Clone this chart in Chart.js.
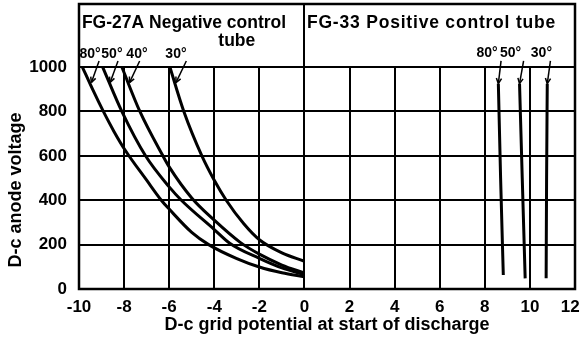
<!DOCTYPE html>
<html>
<head>
<meta charset="utf-8">
<script src="https://cdn.jsdelivr.net/npm/chart.js@4/dist/chart.umd.min.js"></script>
<style>
  html, body { margin: 0; padding: 0; background: #fff; }
  #wrap { width: 580px; height: 341px; }
</style>
</head>
<body>
<div id="wrap"><canvas id="chart"></canvas></div>
<script>
// axis ticks
const xTicks = [-10, -8, -6, -4, -2, 0, 2, 4, 6, 8, 10, 12];
const yTicks = [0, 200, 400, 600, 800, 1000];

// FG-27A negative control tube: grid potential (x) vs anode voltage (y)
const neg80x = [-9.85, -9.4, -8.92, -8.45, -7.95, -7.0, -6.35, -6.0, -5.0, -4.25, -3.0, -2.0, -1.0, 0];
const neg80y = [1000, 900, 800, 710, 625, 490, 400, 360, 255, 200, 137, 99, 73, 55];
const neg50x = [-8.95, -8.1, -7.05, -6.0, -5.46, -4.0, -3.3, -2.0, -1.0, 0];
const neg50y = [1000, 800, 600, 460, 400, 268, 205, 138, 95, 65];
const neg40x = [-8.1, -7.3, -6.28, -6.0, -5.0, -4.0, -2.85, -2.0, -1.0, 0];
const neg40y = [1000, 800, 600, 550, 410, 310, 210, 157, 108, 72];
const neg30x = [-5.97, -5.35, -4.55, -4.0, -3.47, -2.7, -2.0, -1.0, 0];
const neg30y = [1000, 800, 600, 490, 400, 295, 222, 163, 125];

// FG-33 positive control tube
const pos80x = [8.6, 8.7, 8.82];
const pos80y = [925, 500, 63];
const pos50x = [9.54, 9.66, 9.79];
const pos50y = [925, 500, 48];
const pos30x = [10.77, 10.74, 10.72];
const pos30y = [925, 500, 48];

// curve labels: text, label centre x, arrow tail (x, y) and tip (x, y)
const negLabels = ['80°', '50°', '40°', '30°'];
const negLabelX = [-9.51, -8.54, -7.43, -5.70];
const negArrow = [[-9.11, 1027, -9.45, 930], [-8.27, 1027, -8.62, 930], [-7.31, 1027, -7.76, 930], [-5.24, 1027, -5.7, 930]];
const posLabels = ['80°', '50°', '30°'];
const posLabelX = [8.10, 9.14, 10.51];
const posArrow = [[8.72, 1028, 8.6, 925], [9.72, 1028, 9.54, 925], [10.91, 1028, 10.77, 925]];

const FONT = "'Liberation Sans', Arial, sans-serif";

const toPoints = (xs, ys) => xs.map((x, i) => ({ x: x, y: ys[i] }));

const curve = (label, xs, ys) => ({
    label: label,
    data: toPoints(xs, ys),
    showLine: true,
    borderColor: '#000',
    borderWidth: 3,
    pointRadius: 0,
    cubicInterpolationMode: 'monotone',
    fill: false,
});

function drawArrow(ctx, x1, y1, x2, y2) {
    ctx.beginPath();
    ctx.moveTo(x1, y1);
    ctx.lineTo(x2, y2);
    ctx.stroke();
    const a = Math.atan2(y2 - y1, x2 - x1);
    const h = 6;
    ctx.beginPath();
    ctx.moveTo(x2, y2);
    ctx.lineTo(x2 - h * Math.cos(a - 0.45), y2 - h * Math.sin(a - 0.45));
    ctx.moveTo(x2, y2);
    ctx.lineTo(x2 - h * Math.cos(a + 0.45), y2 - h * Math.sin(a + 0.45));
    ctx.stroke();
}

// grid, frame and header text of the two panels
const panelPlugin = {
    id: 'panels',
    beforeDatasetsDraw(chart) {
        const { ctx, chartArea: ca, scales: { x, y } } = chart;
        const y0 = y.getPixelForValue(0);
        const y1000 = y.getPixelForValue(1000);
        ctx.save();
        ctx.strokeStyle = '#000';
        ctx.lineWidth = 2;
        xTicks.forEach((v) => {
            if (v === xTicks[0] || v === xTicks[xTicks.length - 1]) return;
            const px = Math.round(x.getPixelForValue(v));
            ctx.beginPath();
            ctx.moveTo(px, y0);
            ctx.lineTo(px, v === 0 ? ca.top : y1000);
            ctx.stroke();
        });
        ctx.lineWidth = 2.5;
        ctx.strokeRect(ca.left, ca.top, ca.right - ca.left, y0 - ca.top);
        ctx.restore();
    },
    afterDatasetsDraw(chart) {
        const { ctx, scales: { x, y } } = chart;
        ctx.save();
        ctx.fillStyle = '#000';
        ctx.strokeStyle = '#000';
        ctx.textBaseline = 'alphabetic';

        ctx.font = `bold 17.5px ${FONT}`;
        ctx.textAlign = 'left';
        ctx.fillText('FG-27A Negative control', x.getPixelForValue(-9.87), y.getPixelForValue(1176));
        ctx.letterSpacing = '0.8px';
        ctx.fillText('FG-33 Positive control tube', x.getPixelForValue(0.11), y.getPixelForValue(1176));
        ctx.letterSpacing = '0px';
        ctx.textAlign = 'center';
        ctx.fillText('tube', x.getPixelForValue(-3.0), y.getPixelForValue(1097));

        ctx.font = `bold 14px ${FONT}`;
        negLabels.forEach((t, i) => ctx.fillText(t, x.getPixelForValue(negLabelX[i]), y.getPixelForValue(1041)));
        posLabels.forEach((t, i) => ctx.fillText(t, x.getPixelForValue(posLabelX[i]), y.getPixelForValue(1045)));

        ctx.lineWidth = 1.5;
        negArrow.concat(posArrow).forEach((a) => {
            drawArrow(ctx, x.getPixelForValue(a[0]), y.getPixelForValue(a[1]),
                x.getPixelForValue(a[2]), y.getPixelForValue(a[3]));
        });

        // y axis title, centred on the 0-1000 part of the axis
        ctx.font = `bold 18px ${FONT}`;
        ctx.translate(y.left + 16, y.getPixelForValue(446));
        ctx.rotate(-Math.PI / 2);
        ctx.textAlign = 'center';
        ctx.textBaseline = 'middle';
        ctx.fillText('D-c anode voltage', 0, 0);
        ctx.restore();
    },
};

new Chart(document.getElementById('chart'), {
    type: 'scatter',
    data: {
        datasets: [
            curve('FG-27A 80°', neg80x, neg80y),
            curve('FG-27A 50°', neg50x, neg50y),
            curve('FG-27A 40°', neg40x, neg40y),
            curve('FG-27A 30°', neg30x, neg30y),
            curve('FG-33 80°', pos80x, pos80y),
            curve('FG-33 50°', pos50x, pos50y),
            curve('FG-33 30°', pos30x, pos30y),
        ],
    },
    options: {
        responsive: true,
        maintainAspectRatio: false,
        animation: false,
        layout: { padding: { top: 4, right: 5, left: 0, bottom: 0 } },
        plugins: {
            legend: { display: false },
            tooltip: { enabled: false },
        },
        scales: {
            x: {
                type: 'linear',
                min: -10,
                max: 12,
                afterBuildTicks: (scale) => { scale.ticks = xTicks.map((v) => ({ value: v })); },
                afterFit: (scale) => {
                    scale.height = 52;
                    scale.paddingLeft = 0;
                    scale.paddingRight = 0;
                },
                ticks: {
                    autoSkip: false,
                    maxRotation: 0,
                    color: '#000',
                    padding: 8,
                    font: { family: FONT, size: 17, weight: 'bold' },
                    // last label pulled in a little so it stays on the canvas
                    callback: (v) => (v === 12 ? '12\u00a0\u00a0' : String(v)),
                },
                grid: { display: false, drawTicks: false },
                border: { display: false },
                title: {
                    display: true,
                    text: 'D-c grid potential at start of discharge',
                    color: '#000',
                    padding: { top: 0, bottom: 5 },
                    font: { family: FONT, size: 18, weight: 'bold' },
                },
            },
            y: {
                type: 'linear',
                min: 0,
                max: 1284,
                afterBuildTicks: (scale) => { scale.ticks = yTicks.map((v) => ({ value: v })); },
                afterFit: (scale) => {
                    scale.width = 79;
                    scale.paddingTop = 0;
                    scale.paddingBottom = 0;
                },
                ticks: {
                    color: '#000',
                    padding: 12,
                    font: { family: FONT, size: 17, weight: 'bold' },
                    callback: (v) => String(v),
                },
                grid: { color: '#000', lineWidth: 2, drawTicks: false },
                border: { display: false },
            },
        },
    },
    plugins: [panelPlugin],
});
</script>
</body>
</html>
